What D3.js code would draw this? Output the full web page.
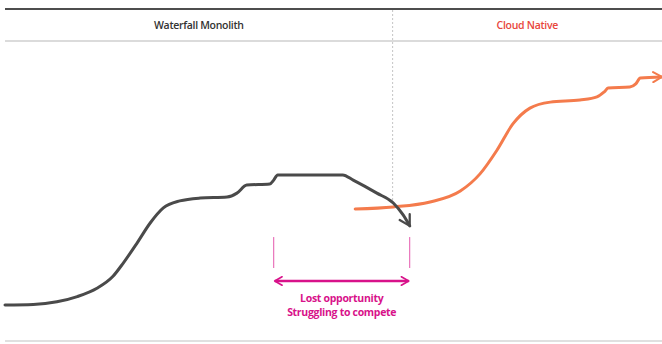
<!DOCTYPE html>
<html>
<head>
<meta charset="utf-8">
<script src="https://cdn.jsdelivr.net/npm/d3@7"></script>
<style>
  html, body { margin: 0; padding: 0; background: #fff; }
  svg { display: block; }
</style>
</head>
<body>
<div id="chart"></div>
<script>
// Periods shown in the header band (x in abstract time units 0..100)
const periodNames = ["Waterfall Monolith", "Cloud Native"];
const periodBounds = [[0, 59], [59, 100]];
const periodColors = ["#333333", "#e8463c"];

// Waterfall monolith curve (time, value)
const monolithT = [0, 4.3, 7.9, 11.0, 14.0, 16.4, 18.0, 20.1, 22.1, 24.1, 26.6, 29.7, 33.8, 35.3, 36.8, 40.3, 40.9, 41.5, 51.4, 53.0, 56.6, 59.1, 60.6, 61.6];
const monolithV = [5.8, 6.0, 7.0, 9.0, 12.2, 16.7, 21.9, 29.6, 37.3, 43.1, 45.8, 46.9, 47.3, 48.8, 51.9, 52.3, 53.8, 55.8, 55.8, 53.8, 48.8, 45.0, 40.4, 36.2];

// Cloud native curve (time, value)
const cloudT = [53.3, 59.1, 64.7, 69.3, 72.3, 74.9, 77.3, 79.9, 83.0, 87.5, 90.1, 91.2, 91.8, 95.1, 96.0, 96.7, 100];
const cloudV = [42.7, 43.5, 45.4, 49.6, 56.2, 65.4, 75.4, 81.5, 83.8, 84.6, 85.8, 87.7, 89.2, 89.6, 90.8, 93.1, 93.5];

// Lost opportunity window (time units) and its labels
const lostWindow = [40.9, 61.6];
const lostLabels = ["Lost opportunity", "Struggling to compete"];

const width = 662;
const height = 344;

const x = d3.scaleLinear().domain([0, 100]).range([5, 662]);
const y = d3.scaleLinear().domain([0, 100]).range([320, 60]);

const svg = d3.select("#chart").append("svg")
    .attr("width", width)
    .attr("height", height)
    .style("font-family", "'Open Sans', sans-serif");

const defs = svg.append("defs");

function chevron(id, color, size) {
    defs.append("marker")
        .attr("id", id)
        .attr("viewBox", "0 0 10 10")
        .attr("refX", 8)
        .attr("refY", 5)
        .attr("markerWidth", size)
        .attr("markerHeight", size)
        .attr("markerUnits", "strokeWidth")
        .attr("orient", "auto-start-reverse")
        .append("path")
        .attr("d", "M1,1 L8,5 L1,9")
        .attr("fill", "none")
        .attr("stroke", color)
        .attr("stroke-width", 1.6)
        .attr("stroke-linecap", "round")
        .attr("stroke-linejoin", "round");
}
chevron("arrow-dark", "#4a4a4a", 4.8);
chevron("arrow-orange", "#f47b4c", 4.2);
chevron("arrow-pink", "#d8128a", 4.2);

// Header band
svg.append("line")
    .attr("x1", x(0)).attr("x2", x(100))
    .attr("y1", 9).attr("y2", 9)
    .attr("stroke", "#4d4d4d").attr("stroke-width", 2);

svg.append("line")
    .attr("x1", x(0)).attr("x2", x(100))
    .attr("y1", 41).attr("y2", 41)
    .attr("stroke", "#cfcfcf").attr("stroke-width", 1.5);

svg.append("line")
    .attr("x1", x(0)).attr("x2", x(100))
    .attr("y1", 341).attr("y2", 341)
    .attr("stroke", "#d6d6d6").attr("stroke-width", 1.5);

// Divider between periods
svg.append("line")
    .attr("x1", x(periodBounds[1][0])).attr("x2", x(periodBounds[1][0]))
    .attr("y1", 10).attr("y2", y(44))
    .attr("stroke", "#c4c4c4").attr("stroke-width", 1)
    .attr("stroke-dasharray", "2,2");

svg.append("g")
    .selectAll("text")
    .data(periodNames)
    .join("text")
    .attr("x", (d, i) => x((periodBounds[i][0] + periodBounds[i][1]) / 2))
    .attr("y", 29)
    .attr("text-anchor", "middle")
    .attr("font-size", 10.5)
    .attr("font-weight", 600)
    .attr("letter-spacing", -0.3)
    .attr("fill", (d, i) => periodColors[i])
    .text(d => d);

const line = d3.line()
    .x(d => x(d[0]))
    .y(d => y(d[1]))
    .curve(d3.curveMonotoneX);

// Cloud native curve (drawn first so the monolith arrow crosses over it)
svg.append("path")
    .datum(d3.zip(cloudT, cloudV))
    .attr("d", line)
    .attr("fill", "none")
    .attr("stroke", "#f47b4c")
    .attr("stroke-width", 3)
    .attr("stroke-linecap", "round")
    .attr("marker-end", "url(#arrow-orange)");

svg.append("path")
    .datum(d3.zip(monolithT, monolithV))
    .attr("d", line)
    .attr("fill", "none")
    .attr("stroke", "#4a4a4a")
    .attr("stroke-width", 3)
    .attr("stroke-linecap", "round")
    .attr("marker-end", "url(#arrow-dark)");

// Lost opportunity annotation
const pink = "#d8128a";
const ann = svg.append("g");

ann.selectAll("line.tick")
    .data(lostWindow)
    .join("line")
    .attr("class", "tick")
    .attr("x1", d => x(d)).attr("x2", d => x(d))
    .attr("y1", y(31.9)).attr("y2", y(20))
    .attr("stroke", pink).attr("stroke-opacity", 0.7).attr("stroke-width", 1);

ann.append("line")
    .attr("x1", x(lostWindow[0]) + 1).attr("x2", x(lostWindow[1]) - 1)
    .attr("y1", y(15)).attr("y2", y(15))
    .attr("stroke", pink).attr("stroke-width", 2.5)
    .attr("marker-start", "url(#arrow-pink)")
    .attr("marker-end", "url(#arrow-pink)");

ann.selectAll("text")
    .data(lostLabels)
    .join("text")
    .attr("x", (x(lostWindow[0]) + x(lostWindow[1])) / 2)
    .attr("y", (d, i) => y(15) + 21 + i * 14)
    .attr("text-anchor", "middle")
    .attr("font-size", 10.5)
    .attr("font-weight", 700)
    .attr("letter-spacing", -0.3)
    .attr("fill", pink)
    .text(d => d);
</script>
</body>
</html>
